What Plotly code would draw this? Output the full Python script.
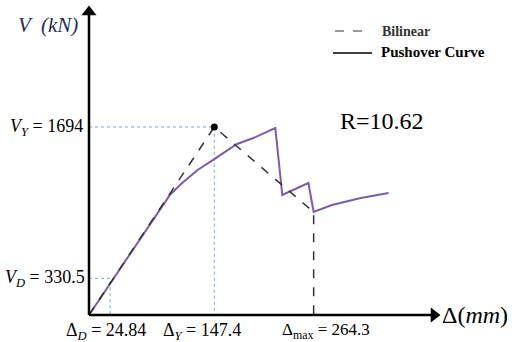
import plotly.graph_objects as go

# Key values (labels on the chart)
delta_D, V_D = 24.84, 330.5
delta_Y, V_Y = 147.4, 1694.0
delta_max, V_max_bilin = 264.3, 928.0
R_value = "10.62"

# Pushover curve (displacement mm, base shear kN)
push_x = [0, 84.0, 95.0, 109.6, 127.8, 146.1, 162.8, 174.1, 193.5, 219.2, 227.4, 258.1, 264.3, 285.8, 319.7, 352.5]
push_y = [0, 965, 1080, 1189, 1307, 1397, 1487, 1541, 1595, 1685, 1081, 1189, 928, 991, 1054, 1099]

# Bilinear idealisation
bil_x = [0, delta_Y, delta_max, delta_max]
bil_y = [0, V_Y, V_max_bilin, 0]

SERIF = "Liberation Serif, Times New Roman, DejaVu Serif, serif"
W, H = 528, 342
ox, oy = 89, 315          # pixel position of origin
sx = 0.85                 # px per mm
sy = 188 / 1694           # px per kN
xr = [-ox / sx, (W - ox) / sx]
yr = [-(H - oy) / sy, oy / sy]

fig = go.Figure()

guide = dict(color="#6fa8dc", width=1, dash="dot")
fig.add_trace(go.Scatter(x=[0, delta_Y, delta_Y], y=[V_Y, V_Y, 0], mode="lines", line=guide, hoverinfo="skip"))
fig.add_trace(go.Scatter(x=[0, delta_D, delta_D], y=[V_D, V_D, 0], mode="lines", line=guide, hoverinfo="skip"))

fig.add_trace(go.Scatter(x=push_x, y=push_y, mode="lines", line=dict(color="#7b5cab", width=2)))
fig.add_trace(go.Scatter(x=bil_x, y=bil_y, mode="lines", line=dict(color="#333333", width=1.5, dash="dash")))
fig.add_trace(go.Scatter(x=[delta_Y], y=[V_Y], mode="markers", marker=dict(color="black", size=7)))

# axes with arrows
x_tip = (440 - ox) / sx
y_tip = (oy - 6) / sy
fig.add_shape(type="line", xref="x", yref="y", x0=0, y0=0, x1=x_tip - 8 / sx, y1=0,
              line=dict(color="black", width=2.5))
fig.add_shape(type="line", xref="x", yref="y", x0=0, y0=0, x1=0, y1=y_tip - 8 / sy,
              line=dict(color="black", width=2.5))
fig.add_trace(go.Scatter(x=[x_tip - 6 / sx], y=[0], mode="markers",
                         marker=dict(symbol="triangle-right", size=13, color="black")))
fig.add_trace(go.Scatter(x=[0], y=[y_tip - 6 / sy], mode="markers",
                         marker=dict(symbol="triangle-up", size=13, color="black")))

def lab(x, y, text, size=18, xanchor="center", yanchor="middle", **kw):
    fig.add_annotation(x=x, y=y, xref="x", yref="y", text=text, showarrow=False,
                       font=dict(family=SERIF, size=size, color="black"),
                       xanchor=xanchor, yanchor=yanchor, **kw)

lab(0, V_Y, "<i>V</i><sub><i>Y</i></sub> = 1694", xanchor="right", xshift=-4)
lab(0, V_D, "<i>V</i><sub><i>D</i></sub> = 330.5", xanchor="right", xshift=-2)
lab(delta_D, 0, "Δ<sub><i>D</i></sub> = 24.84", yanchor="top", yshift=-3, xshift=-4)
lab(delta_Y, 0, "Δ<sub><i>Y</i></sub> = 147.4", yanchor="top", yshift=-3, xshift=-12)
lab(delta_max, 0, "Δ<sub>max</sub> = 264.3", size=17, yanchor="top", yshift=-3, xshift=12)
lab(x_tip, 0, "Δ(<i>mm</i>)", size=24, xanchor="left", xshift=0)

fig.add_annotation(x=16 / W, y=1 - 25 / H, xref="paper", yref="paper",
                   text="<i>V  (kN)</i>", showarrow=False, xanchor="left", yanchor="middle",
                   font=dict(family=SERIF, size=21, color="#1f2f55"))
fig.add_annotation(x=338 / W, y=1 - 121 / H, xref="paper", yref="paper",
                   text="R=" + R_value, showarrow=False, xanchor="left", yanchor="middle",
                   font=dict(family=SERIF, size=24, color="black"))

# legend
fig.add_shape(type="line", xref="paper", yref="paper", x0=335 / W, x1=370 / W,
              y0=1 - 31 / H, y1=1 - 31 / H, line=dict(color="#777777", width=1.5, dash="dash"))
fig.add_shape(type="line", xref="paper", yref="paper", x0=333 / W, x1=372 / W,
              y0=1 - 53 / H, y1=1 - 53 / H, line=dict(color="black", width=1.3))
fig.add_annotation(x=380 / W, y=1 - 31 / H, xref="paper", yref="paper", text="<b>Bilinear</b>",
                   showarrow=False, xanchor="left", yanchor="middle",
                   font=dict(family=SERIF, size=14, color="#333333"))
fig.add_annotation(x=379 / W, y=1 - 52 / H, xref="paper", yref="paper", text="<b>Pushover Curve</b>",
                   showarrow=False, xanchor="left", yanchor="middle",
                   font=dict(family=SERIF, size=15, color="black"))

fig.update_layout(width=W, height=H, margin=dict(l=0, r=0, t=0, b=0),
                  paper_bgcolor="white", plot_bgcolor="white", showlegend=False,
                  xaxis=dict(range=xr, visible=False, fixedrange=True),
                  yaxis=dict(range=yr, visible=False, fixedrange=True))
fig.write_html("out.html")
